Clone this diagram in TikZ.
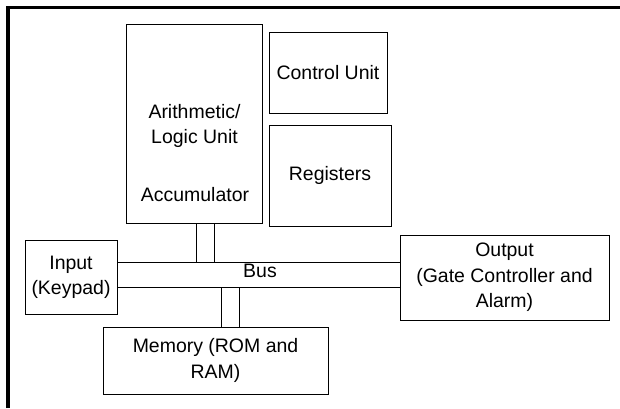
\documentclass[tikz,border=0pt]{standalone}
\usepackage{fontspec}
\setmainfont{Liberation Sans}
\usetikzlibrary{calc}

\tikzset{
  blk/.style={draw,line width=0.75pt,inner sep=0pt,align=center,
    font=\fontsize{14.6}{19}\selectfont},
  txt/.style={inner sep=0pt,align=center,font=\fontsize{14.6}{19}\selectfont},
  wire/.style={line width=0.75pt}
}

\begin{document}
\begin{tikzpicture}[x=0.75pt,y=-0.75pt]
  \useasboundingbox (0,0) rectangle (620,408);
  % frame
  \draw[line width=2.6pt] (8,408) -- (8,7.5) -- (620,7.5);
  % blocks
  \node[blk,minimum width=102pt,minimum height=149.25pt] (alu) at (194,123.5){};
  \node[txt] (alutxt) at (194.5,126){Arithmetic/\\Logic Unit};
  \node[txt] (acc) at (195,195){Accumulator};
  \node[blk,minimum width=88.5pt,minimum height=60.75pt] (cu) at (328,72.5){Control Unit};
  \node[blk,minimum width=91.5pt,minimum height=75.75pt] (reg) at (330,175.5){Registers};
  \node[blk,minimum width=69pt,minimum height=55.5pt] (inp) at (71,277){Input\\(Keypad)};
  \node[blk,minimum width=156.75pt,minimum height=63.75pt] (outp) at (504.5,277.5){Output\\(Gate Controller and\\Alarm)};
  \node[blk,minimum width=168.75pt,minimum height=50.25pt] (mem) at (215.5,360.5){Memory (ROM and\\RAM)};
  % bus
  \coordinate (bt) at (0,262);
  \coordinate (bb) at (0,287);
  \draw[wire] (inp.east |- bt) -- (outp.west |- bt);
  \draw[wire] (inp.east |- bb) -- (outp.west |- bb);
  \node[txt] (bus) at (260,271){Bus};
  \foreach \x in {196,214}{\draw[wire] (alu.south -| \x,0) -- (\x,0 |- bt);}
  \foreach \x in {221,239}{\draw[wire] (\x,0 |- bb) -- (mem.north -| \x,0);}
\end{tikzpicture}
\end{document}
